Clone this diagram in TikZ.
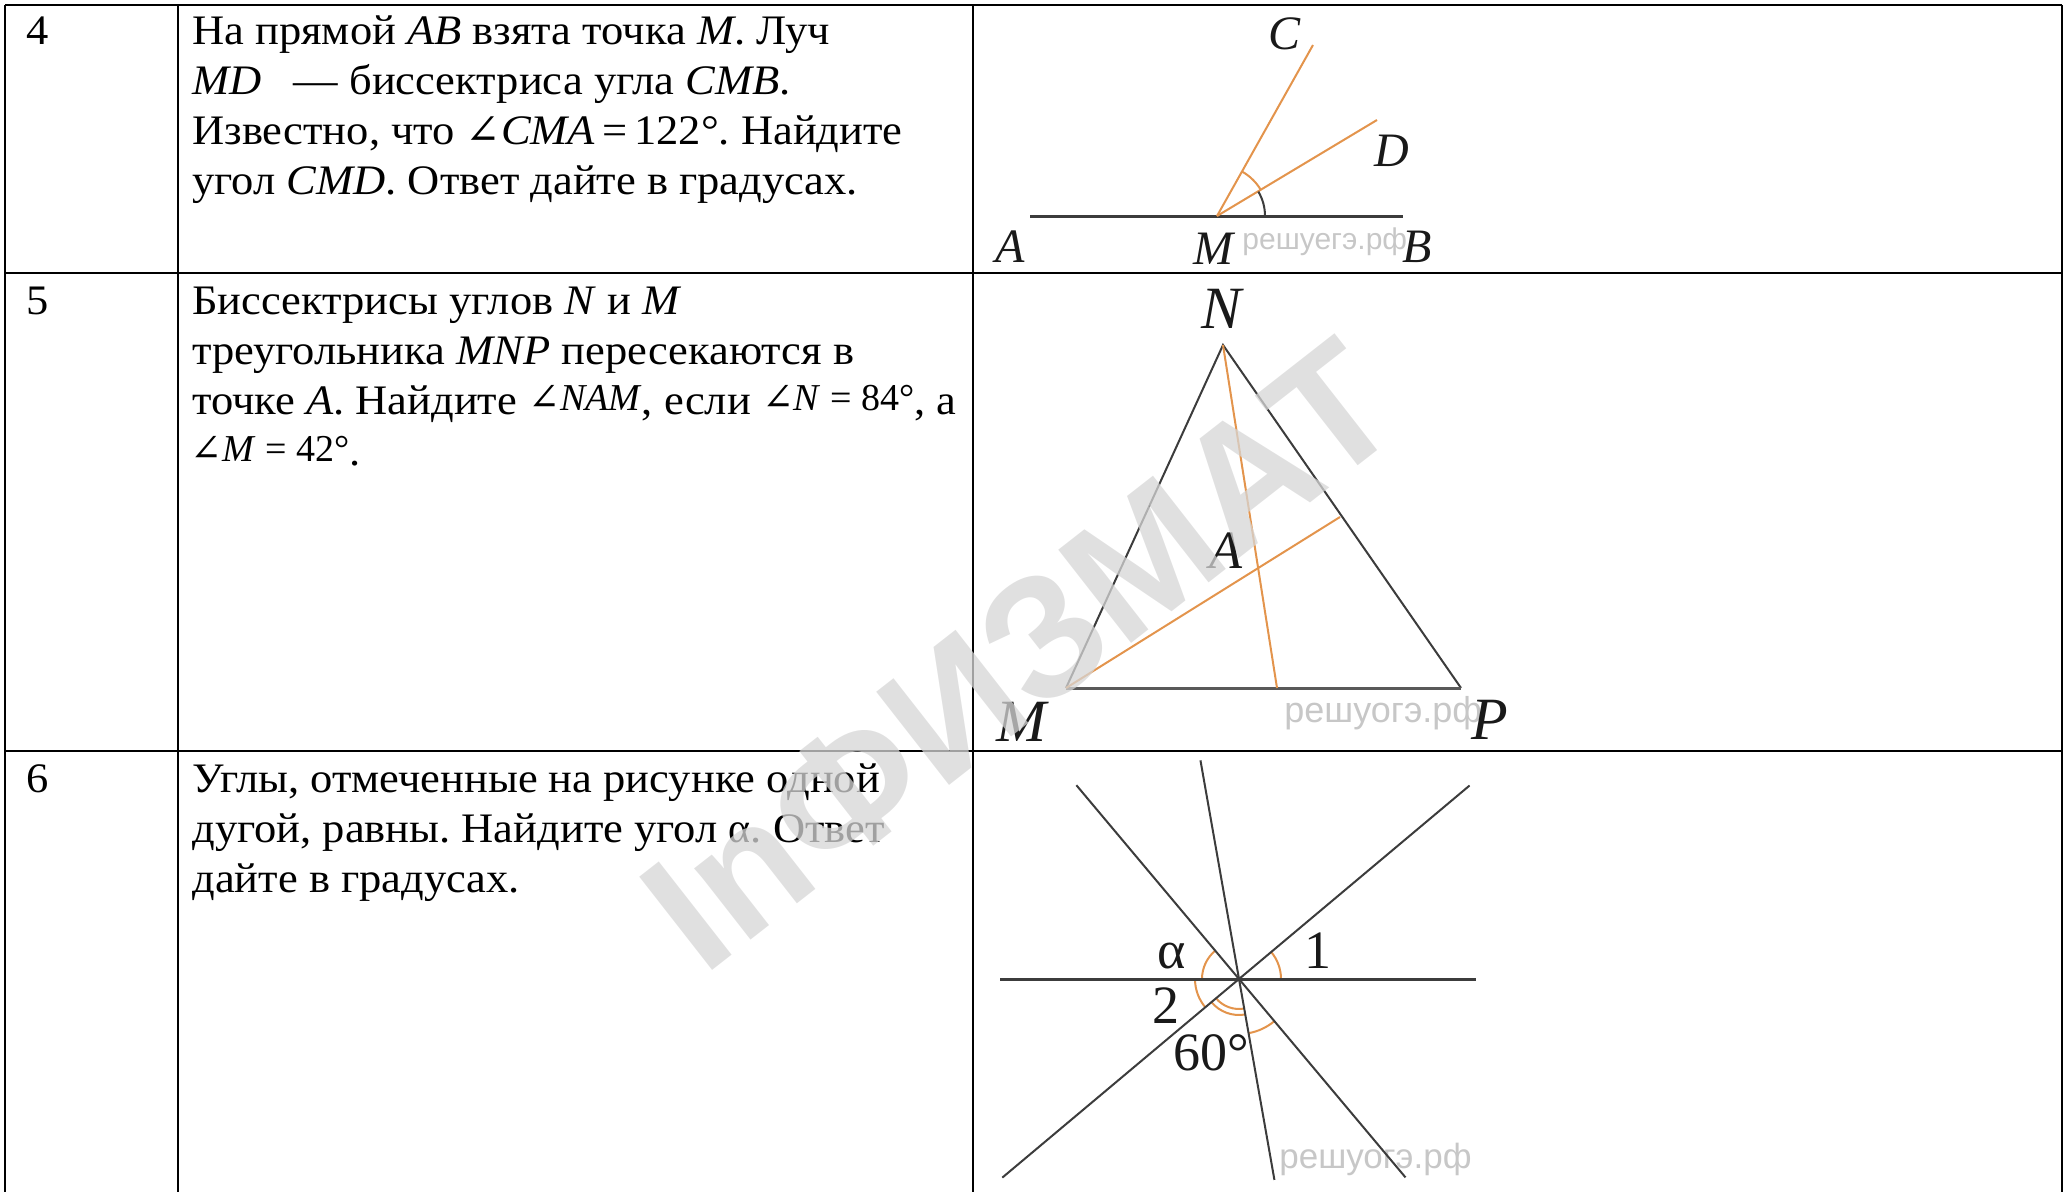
\documentclass[tikz,border=0pt]{standalone}
\usepackage{fontspec}
\setmainfont{Liberation Serif}[FakeStretch=1.06]
\newfontfamily\timesfont{Liberation Serif}
\newfontfamily\symfont{DejaVu Serif}
\newfontfamily\sitefont{Liberation Sans}
\usetikzlibrary{calc}
\frenchspacing

\definecolor{rayc}{RGB}{227,148,76}
\definecolor{ink}{RGB}{60,60,60}
\newcommand{\angsym}{{\symfont ∠}}
\newcommand{\mth}[1]{\raisebox{2pt}{\timesfont\fontsize{19}{22}\selectfont #1}}

\begin{document}
\begin{tikzpicture}[
  x=0.5pt, y=-0.5pt,
  rule/.style={line width=1.3pt, black},
  txt/.style={anchor=base west, inner sep=0pt, font=\fontsize{21}{25}\selectfont},
  seg/.style={line width=1pt, ink},
  baseln/.style={line width=1.5pt, ink},
  bis/.style={line width=1pt, rayc},
  arcpen/.style={line width=1pt, rayc},
  lbl/.style={inner sep=0pt, text=black!90, font=\timesfont\itshape\fontsize{#1}{#1}\selectfont},
  num/.style={inner sep=0pt, text=black!90, font=\timesfont\fontsize{#1}{#1}\selectfont},
  site/.style={anchor=base west, inner sep=0pt, text=black!22, font=\sitefont\fontsize{#1}{#1}\selectfont}
]
\useasboundingbox (0,0) rectangle (2067,1192);

% ── Table grid ──
\foreach \yy in {5,273,751}
  \draw[rule] (5,\yy) -- (2062,\yy);
\foreach \xx in {5,178,973,2062}
  \draw[rule] (\xx,5) -- (\xx,1192);

% ── Row 4 ──
\node[txt] (n4) at (26,45) {4};
\node[txt] (t4a) at (192,45) {На прямой \textit{AB} взята точка \textit{M}. Луч};
\node[txt] (t4b) at (192,95) {\textit{MD}\hspace{0.5em} — биссектриса угла \textit{CMB}.};
\node[txt] (t4c) at (192,145) {Известно, что \angsym\textit{CMA}\,=\,122°. Найдите};
\node[txt] (t4d) at (192,195) {угол \textit{CMD}. Ответ дайте в градусах.};

% ── Row 5 ──
\node[txt] (n5) at (26,315) {5};
\node[txt] (t5a) at (192,315) {Биссектрисы углов \textit{N} и \textit{M}};
\node[txt] (t5b) at (192,365) {треугольника \textit{MNP} пересекаются в};
\node[txt] (t5c) at (192,415) {точке \textit{A}. Найдите \mth{\angsym\textit{NAM}}, если \mth{\angsym\textit{N} = 84°}, а};
\node[txt] (t5d) at (190,466) {\mth{\angsym\textit{M} = 42°}.};

% ── Row 6 ──
\node[txt] (n6) at (26,792) {6};
\node[txt] (t6a) at (192,792) {Углы, отмеченные на рисунке одной};
\node[txt] (t6b) at (192,842) {дугой, равны. Найдите угол {\timesfont α}. Ответ};
\node[txt] (t6c) at (192,892) {дайте в градусах.};

% ── Figure 4: ray MD bisects angle CMB ──
\coordinate (M4) at (1217,216);
\coordinate (A4) at (1030,217);
\coordinate (B4) at (1403,217);
\coordinate (C4) at (1313,45);
\coordinate (D4) at (1377,120);
\node[site=15] (w4) at (1242,250) {решуегэ.рф};
\draw[baseln] (A4) -- (B4);
\draw[bis] (M4) -- (C4);
\draw[bis] (M4) -- (D4);
\draw[arcpen] ($(M4)+(-30.5:51)$) arc[start angle=-30.5, end angle=-60.5, radius=51];
\draw[seg] ($(M4)+(0:48)$) arc[start angle=0, end angle=-30.5, radius=48];
\node[lbl=24] (lC4) at (1284,34) {C};
\node[lbl=24] (lD4) at (1392,151) {D};
\node[lbl=24] (lA4) at (1010,247) {A};
\node[lbl=24] (lM4) at (1213,249) {M};
\node[lbl=24] (lB4) at (1417,247) {B};

% ── Figure 5: triangle MNP ──
\coordinate (N5) at (1223,345);
\coordinate (M5) at (1066,688);
\coordinate (P5) at (1461,688);
\coordinate (F5) at (1277,688);
\coordinate (K5) at (1340,517);
\coordinate (A5) at (intersection of N5--F5 and M5--K5);
\node[site=18] (w5) at (1284,722) {решуогэ.рф};
\draw[seg] (M5) -- (N5) -- (P5);
\draw[baseln, ink!85] (M5) -- (P5);
\draw[bis] (N5) -- (F5);
\draw[bis] (M5) -- (K5);
\node[lbl=30] (lN5) at (1221,309) {N};
\node[lbl=30] (lM5) at (1021,722) {M};
\node[lbl=30] (lP5) at (1490,720) {P};
\node[lbl=27] (lA5) at ($(A5)+(-32,-17)$) {A};

% ── Figure 6: four lines through one point ──
\coordinate (O6) at (1239,979);
\coordinate (H6a) at (1000,979);
\coordinate (H6b) at (1476,979);
\node[site=17.5] (w6) at (1279,1168) {решуогэ.рф};
\draw[arcpen] ($(O6)+(0:42)$) arc[start angle=0, end angle=-40, radius=42];
\draw[arcpen] ($(O6)+(-130:37)$) arc[start angle=-130, end angle=-180, radius=37];
\draw[arcpen] ($(O6)+(-180:44)$) arc[start angle=-180, end angle=-220, radius=44];
\draw[arcpen] ($(O6)+(-220:30)$) arc[start angle=-220, end angle=-280, radius=30];
\draw[arcpen] ($(O6)+(-220:36)$) arc[start angle=-220, end angle=-280, radius=36];
\draw[arcpen] ($(O6)+(-280:55)$) arc[start angle=-280, end angle=-310, radius=55];
\draw[baseln] (H6a) -- (H6b);
\draw[seg] ($(O6)+(-100:222)$) -- ($(O6)+(80:204)$);
\draw[seg] ($(O6)+(-130:253)$) -- ($(O6)+(50:259)$);
\draw[seg] ($(O6)+(-40:301)$) -- ($(O6)+(140:309)$);
\node[num=27] (lal6) at (1172,956) {α};
\node[num=27] (lo6) at (1318,951) {1};
\node[num=27] (ltw6) at (1166,1006) {2};
\node[num=27] (lsx6) at (1211,1053) {60°};

% ── Watermark ──
\node[rotate=38, inner sep=0pt, text=black!16, text opacity=0.75,
  font=\sitefont\bfseries\fontsize{86}{86}\selectfont] (wm) at (1020,655) {InФИЗМАТ};

\end{tikzpicture}
\end{document}
